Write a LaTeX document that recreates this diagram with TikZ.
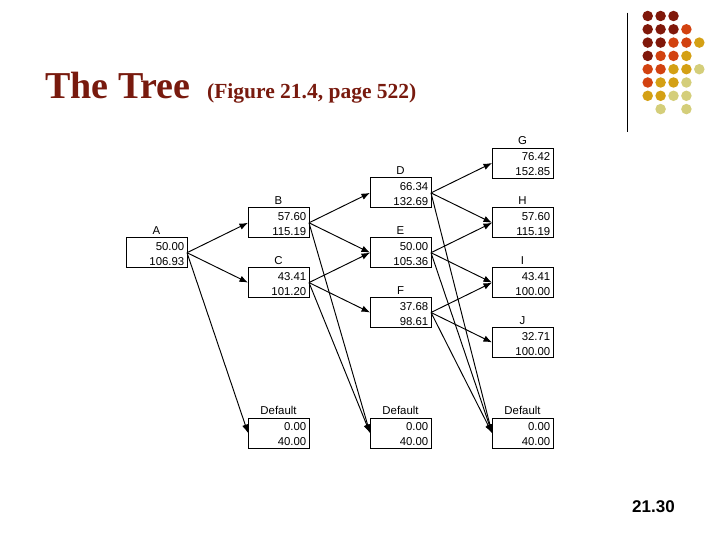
\documentclass[tikz,border=0pt]{standalone}
\usepackage{fontspec}
\setmainfont{Liberation Serif}
\newfontfamily\arialf{Liberation Sans}
\usetikzlibrary{arrows.meta,calc}
\definecolor{titlered}{RGB}{120,26,14}
\definecolor{dotA}{RGB}{128,24,10}
\definecolor{dotB}{RGB}{210,66,16}
\definecolor{dotC}{RGB}{212,160,20}
\definecolor{dotD}{RGB}{212,206,122}
\tikzset{
  tbox/.style={draw, line width=0.9pt, minimum width=61pt, minimum height=30pt, inner sep=0pt, outer sep=0pt},
  tlabel/.style={inner sep=0pt, font=\arialf\fontsize{11.4}{13}\selectfont},
  tval/.style={inner sep=0pt, font=\arialf\fontsize{11.4}{13}\selectfont},
  link/.style={line width=0.95pt, -{Latex[length=8.5pt,width=6.5pt]}},
  dot/.style={circle, inner sep=0pt, minimum size=10.5pt},
}
\newcommand{\mkbox}[6]{%
  \node[tbox, anchor=north west] (#1) at (#2,#3) {};
  \node[tlabel, anchor=base] (#1l) at ($(#1.north)+(0,-3.3)$) {#4};
  \node[tval, anchor=base east] (#1a) at ($(#1.north east)+(-2.5,12.7)$) {#5};
  \node[tval, anchor=base east] (#1b) at ($(#1.north east)+(-2.5,27.7)$) {#6};
}
\begin{document}
\begin{tikzpicture}[x=1pt,y=-1pt]
\useasboundingbox (0,0) rectangle (720,540);
% title
\node[anchor=base west, inner sep=0pt, text=titlered, font=\bfseries\fontsize{38}{40}\selectfont] (title) at (45,99) {The Tree};
\node[anchor=base west, inner sep=0pt, text=titlered, font=\bfseries\fontsize{21.5}{24}\selectfont] (subtitle) at (207,99) {(Figure 21.4, page 522)};
% decoration
\draw[line width=1.2pt] (627.3,12.7) coordinate (vl1) -- (627.3,131.7) coordinate (vl2);
\foreach \c/\r/\col in {0/0/dotA,1/0/dotA,2/0/dotA,
  0/1/dotA,1/1/dotA,2/1/dotA,3/1/dotB,
  0/2/dotA,1/2/dotA,2/2/dotB,3/2/dotB,4/2/dotC,
  0/3/dotA,1/3/dotB,2/3/dotB,3/3/dotC,
  0/4/dotB,1/4/dotB,2/4/dotC,3/4/dotC,4/4/dotD,
  0/5/dotB,1/5/dotC,2/5/dotC,3/5/dotD,
  0/6/dotC,1/6/dotC,2/6/dotD,3/6/dotD,
  1/7/dotD,3/7/dotD}{
  \node[dot, fill=\col] (d\c\r) at ({647.7+12.9*\c},{16+13.3*\r}) {};
}
% boxes
\mkbox{A}{126}{237.7}{A}{50.00}{106.93}
\mkbox{B}{248}{207.8}{B}{57.60}{115.19}
\mkbox{C}{248}{267.6}{C}{43.41}{101.20}
\mkbox{D}{370}{177.9}{D}{66.34}{132.69}
\mkbox{E}{370}{237.7}{E}{50.00}{105.36}
\mkbox{F}{370}{297.5}{F}{37.68}{98.61}
\mkbox{G}{492}{148}{G}{76.42}{152.85}
\mkbox{H}{492}{207.8}{H}{57.60}{115.19}
\mkbox{I}{492}{267.6}{I}{43.41}{100.00}
\mkbox{J}{492}{327.4}{J}{32.71}{100.00}
\mkbox{X1}{248}{418}{Default}{0.00}{40.00}
\mkbox{X2}{370}{418}{Default}{0.00}{40.00}
\mkbox{X3}{492}{418}{Default}{0.00}{40.00}
% connectors
\foreach \s/\t in {A/B,A/C,A/X1,B/D,B/E,B/X2,C/E,C/F,C/X2,D/G,D/H,D/X3,E/H,E/I,E/X3,F/I,F/J,F/X3}{
  \draw[link] (\s.east) -- (\t.west);
}
% page number
\node[anchor=base west, inner sep=0pt, font=\arialf\bfseries\fontsize{17}{19}\selectfont] (pg) at (632,512) {21.30};
\end{tikzpicture}
\end{document}
